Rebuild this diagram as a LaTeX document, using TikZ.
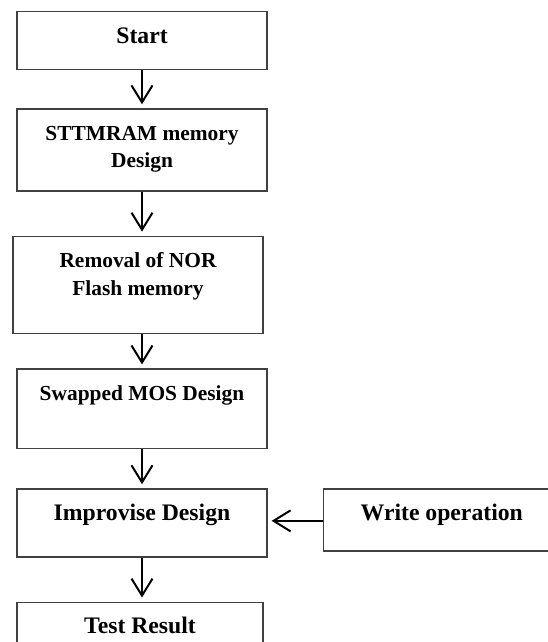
\documentclass[tikz,border=0pt]{standalone}
\usepackage{fontspec}
\setmainfont{Liberation Serif}
\usetikzlibrary{positioning,arrows.meta}
\definecolor{edgegray}{RGB}{64,64,64}
\tikzset{
  stage/.style={draw=edgegray, line width=1.3pt, inner sep=0pt, text width=250pt,
    align=flush center, text height=31.5pt, font=\bfseries\fontsize{23.7}{28}\selectfont},
  smalltext/.style={font=\bfseries\fontsize{21.4}{27.5}\selectfont},
  flow/.style={-{Straight Barb[length=17pt,width=21pt]}, line width=2pt, shorten >=4pt},
}
\begin{document}
\begin{tikzpicture}
  \useasboundingbox (0pt,0pt) rectangle (548pt,-642pt);
  \clip (0pt,0pt) rectangle (548pt,-642pt);
  % main flow
  \node[stage, text depth=26.5pt, anchor=north] (start) at (142pt,-11pt) {Start};
  \node[stage, smalltext, text depth=50.5pt, below=38pt of start] (sttm) {STTMRAM memory\\ Design};
  \node[stage, smalltext, text depth=65.5pt, below=44pt of sttm, xshift=-4pt] (removal) {Removal of NOR\\ Flash memory};
  \node[stage, smalltext, text depth=48pt, below=34.5pt of removal, xshift=4pt] (swapped) {Swapped MOS Design};
  \node[stage, text depth=36.5pt, below=39pt of swapped] (improvise) {Improvise Design};
  \node[stage, text width=246pt, text depth=28.5pt, below=44pt of improvise, xshift=-2pt] (test) {Test Result};
  % side input
  \node[stage, text width=237pt, text depth=30.5pt, right=55pt of improvise.north east, anchor=north west] (write) {Write operation};

  \draw[flow] (start) -- (sttm);
  \draw[flow] (sttm) -- (sttm |- removal.north);
  \draw[flow] (removal.south -| start.south) -- (swapped);
  \draw[flow] (swapped) -- (improvise);
  \draw[flow] (improvise) -- (improvise |- test.north);
  \draw[flow] ([yshift=-1pt]write.west) -- ([yshift=-1pt]write.west -| improvise.east);
\end{tikzpicture}
\end{document}
